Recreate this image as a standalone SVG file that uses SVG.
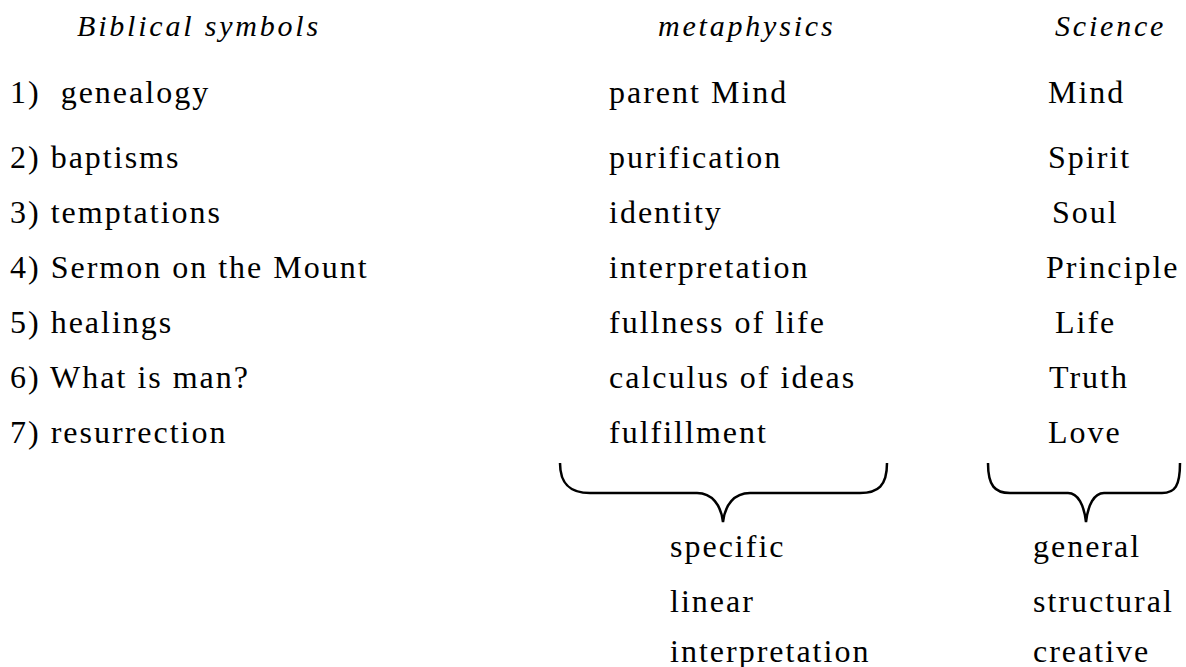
<svg xmlns="http://www.w3.org/2000/svg" width="1186" height="667" viewBox="0 0 1186 667">
<style>
text{font-family:"Liberation Serif","Times New Roman",serif;font-size:32px;fill:#000;letter-spacing:2px}
.h{font-style:italic;font-size:30px;letter-spacing:2.8px}
.brace{fill:none;stroke:#000;stroke-width:2.5}
</style>
<rect width="1186" height="667" fill="#fff"/>
<g id="headers">
<text class="h" x="77" y="36">Biblical symbols</text>
<text class="h" x="658" y="36">metaphysics</text>
<text class="h" x="1055" y="36">Science</text>
</g>
<g id="col-biblical">
<text x="10" y="103">1)&#160; genealogy</text>
<text x="10" y="168">2) baptisms</text>
<text x="10" y="223">3) temptations</text>
<text x="10" y="278">4) Sermon on the Mount</text>
<text x="10" y="333">5) healings</text>
<text x="10" y="388">6) What is man?</text>
<text x="10" y="443">7) resurrection</text>
</g>
<g id="col-metaphysics">
<text x="609" y="103">parent Mind</text>
<text x="609" y="168">purification</text>
<text x="609" y="223">identity</text>
<text x="609" y="278">interpretation</text>
<text x="609" y="333">fullness of life</text>
<text x="609" y="388">calculus of ideas</text>
<text x="609" y="443">fulfillment</text>
</g>
<g id="col-science">
<text x="1048" y="103">Mind</text>
<text x="1048" y="168">Spirit</text>
<text x="1052" y="223">Soul</text>
<text x="1046" y="278">Principle</text>
<text x="1055" y="333">Life</text>
<text x="1049" y="388">Truth</text>
<text x="1048" y="443">Love</text>
</g>
<g id="braces">
<path class="brace" d="M560,463 C560,486 572,493 590,493 L697,493 C712,493 721,505 723,522 C725,505 734,493 750,493 L860,493 C878,493 887,486 887,463"/>
<path class="brace" d="M988,463 C988,486 995,493 1010,493 L1068,493 C1078,493 1084,505 1086,522 C1088,505 1094,493 1104,493 L1162,493 C1175,493 1180,486 1180,463"/>
</g>
<g id="metaphysics-summary">
<text x="670" y="557">specific</text>
<text x="670" y="612">linear</text>
<text x="670" y="662">interpretation</text>
</g>
<g id="science-summary">
<text x="1033" y="557">general</text>
<text x="1033" y="612">structural</text>
<text x="1033" y="662">creative</text>
</g>
</svg>
